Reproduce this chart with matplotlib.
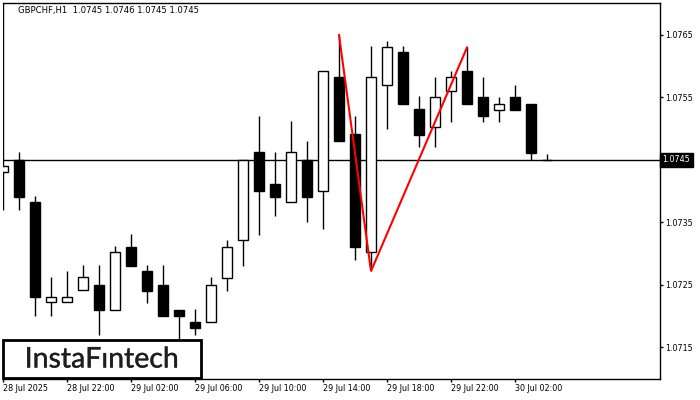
import matplotlib
matplotlib.use("Agg")
import matplotlib.pyplot as plt
from matplotlib.patches import Rectangle
import matplotlib.transforms as mtransforms
import matplotlib.patheffects as pe

# ---- data (GBPCHF H1) ----
opens  = [1.07431, 1.07450, 1.07382, 1.07222, 1.07222, 1.07241, 1.07250, 1.07210,
          1.07311, 1.07272, 1.07250, 1.07210, 1.07191, 1.07191, 1.07261, 1.07321,
          1.07462, 1.07411, 1.07382, 1.07450, 1.07400, 1.07582, 1.07491, 1.07302,
          1.07570, 1.07622, 1.07531, 1.07502, 1.07561, 1.07592, 1.07551, 1.07530,
          1.07551, 1.07540, 1.07450]
highs  = [1.07720, 1.07462, 1.07392, 1.07262, 1.07272, 1.07281, 1.07281, 1.07312,
          1.07331, 1.07281, 1.07281, 1.07210, 1.07211, 1.07262, 1.07321, 1.07450,
          1.07521, 1.07462, 1.07512, 1.07481, 1.07592, 1.07650, 1.07521, 1.07632,
          1.07641, 1.07632, 1.07552, 1.07582, 1.07592, 1.07630, 1.07582, 1.07551,
          1.07570, 1.07540, 1.07460]
lows   = [1.07370, 1.07370, 1.07200, 1.07200, 1.07222, 1.07241, 1.07169, 1.07210,
          1.07280, 1.07221, 1.07200, 1.07155, 1.07169, 1.07191, 1.07240, 1.07280,
          1.07330, 1.07360, 1.07382, 1.07351, 1.07340, 1.07480, 1.07289, 1.07272,
          1.07500, 1.07539, 1.07471, 1.07471, 1.07511, 1.07539, 1.07511, 1.07511,
          1.07530, 1.07450, 1.07450]
closes = [1.07441, 1.07391, 1.07231, 1.07231, 1.07231, 1.07262, 1.07210, 1.07302,
          1.07280, 1.07240, 1.07200, 1.07200, 1.07181, 1.07250, 1.07311, 1.07450,
          1.07400, 1.07391, 1.07462, 1.07390, 1.07592, 1.07480, 1.07311, 1.07582,
          1.07631, 1.07539, 1.07490, 1.07551, 1.07582, 1.07539, 1.07520, 1.07540,
          1.07530, 1.07461, 1.07450]

pattern_idx = [21, 23, 29]
pattern_px = [1.07650, 1.07272, 1.07630]

current_price = 1.0745
price_ticks = [1.0715, 1.0725, 1.0735, 1.0755, 1.0765]
time_tick_idx = [0, 4, 8, 12, 16, 20, 24, 28, 32]
time_tick_labels = ["28 Jul 2025", "28 Jul 22:00", "29 Jul 02:00", "29 Jul 06:00",
                    "29 Jul 10:00", "29 Jul 14:00", "29 Jul 18:00", "29 Jul 22:00",
                    "30 Jul 02:00"]
title = "GBPCHF,H1  1.0745 1.0746 1.0745 1.0745"
logo = "InstaF\u0131ntech"

W, H = 700, 400
fig = plt.figure(figsize=(7, 4), dpi=100)
fig.patch.set_facecolor("white")
ax = fig.add_axes([2.7 / W, 1 - 378.5 / H, (660 - 2.7) / W, (378.5 - 2.7) / H])
ax.set_facecolor("white")

n = len(opens)
xs = list(range(n))
# wicks
ax.vlines(xs, lows, highs, colors="black", linewidth=1.0, zorder=2)
# bodies
bottoms = [min(o, c) for o, c in zip(opens, closes)]
heights = [abs(c - o) for o, c in zip(opens, closes)]
faces = ["white" if c > o else "black" for o, c in zip(opens, closes)]
ax.bar(xs, heights, bottom=bottoms, width=0.66, color=faces, edgecolor="black",
       linewidth=1.0, zorder=3)

# current price line
ax.axhline(current_price, color="black", linewidth=1.0, zorder=1)

# pattern lines
ax.plot(pattern_idx, pattern_px, color="#ff0000", linewidth=1.5, zorder=4,
        solid_joinstyle="miter")

ax.set_xlim((2.7 - 3) / 16, (660 - 3) / 16)
ax.set_ylim(1.0710005, 1.077017)

ax.spines["left"].set_visible(False)
for s in ["top", "right", "bottom"]:
    ax.spines[s].set_linewidth(1.0)
    ax.spines[s].set_color("black")

ax.yaxis.tick_right()
ax.set_yticks(price_ticks)
ax.set_yticklabels([f"{v:.4f}" for v in price_ticks])
ax.tick_params(axis="y", direction="out", length=2.3, width=1, pad=1.5,
               labelsize=5.8, colors="black")
ax.set_xticks(time_tick_idx)
ax.set_xticklabels(time_tick_labels, ha="left")
ax.tick_params(axis="x", direction="out", length=2.3, width=1, pad=1.5,
               labelsize=5.8, colors="black")

# current price box
trans = mtransforms.blended_transform_factory(ax.transAxes, ax.transData)
ax.text(1.004, current_price, f"{current_price:.4f}", transform=trans,
        ha="left", va="center", color="white", fontsize=5.8,
        bbox=dict(boxstyle="square,pad=0.3", facecolor="black", edgecolor="black"),
        clip_on=False, zorder=6)

# title
fig.text(18 / W, 1 - 10.7 / H, title, ha="left", va="center", fontsize=6.1,
         color="black")

# logo
rect = Rectangle((2.7 / W, 1 - 378.3 / H), (201.3 - 2.7) / W, (378.3 - 340) / H,
                 transform=fig.transFigure, facecolor="white", edgecolor="black",
                 linewidth=2.0, zorder=10)
fig.add_artist(rect)
fig.text(102 / W, 1 - 359.5 / H, logo, ha="center", va="center", fontsize=20.5,
         family="Lato", color="#1e1e1e", zorder=11,
         path_effects=[pe.withStroke(linewidth=0.25, foreground="#1e1e1e")])

fig.savefig("out.png", dpi=100)
